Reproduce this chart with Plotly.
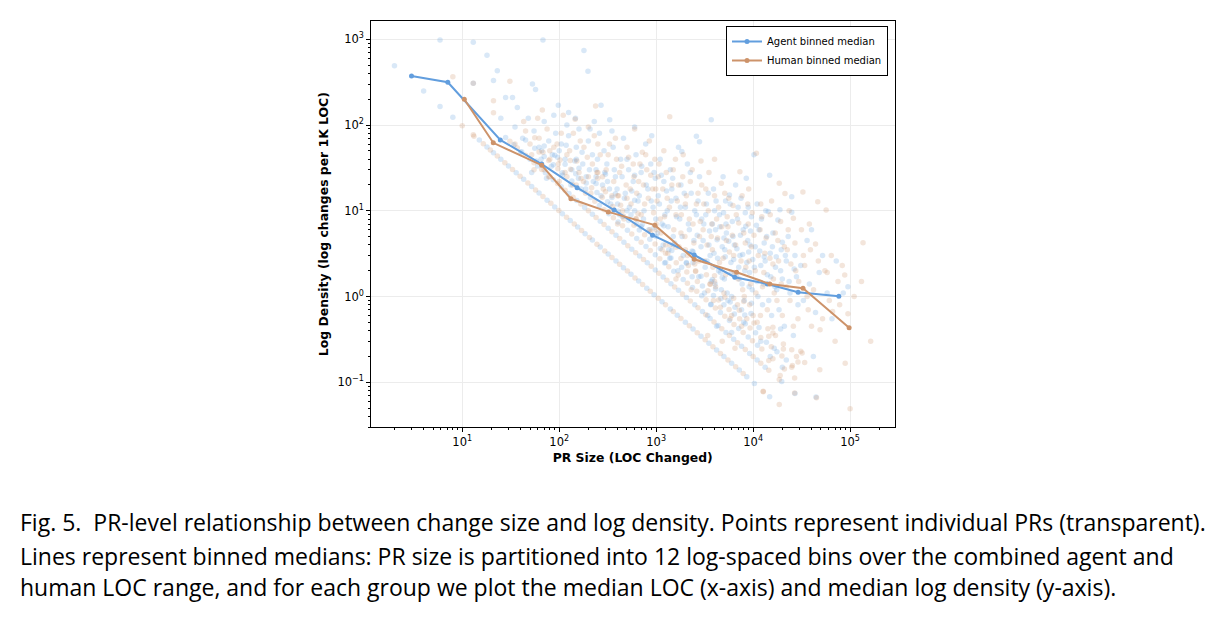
import plotly.graph_objects as go

# ---------------- binned medians ----------------
agent_med_loc = [3.0, 7.1, 24.7, 66, 153, 369, 918, 2470, 6470, 14000, 29100, 76600]
agent_med_density = [373, 315, 67, 35, 18.6, 10.2, 5.2, 3.05, 1.68, 1.40, 1.12, 1.01]
human_med_loc = [10.5, 20.9, 66, 132, 320, 970, 2470, 6750, 14860, 32700, 97700]
human_med_density = [200, 62, 34, 13.8, 9.7, 6.8, 2.72, 1.92, 1.40, 1.25, 0.433]

# ---------------- individual PRs (agent) ----------------
agent_loc = [
    # 1 change
    15, 18, 21, 25, 30, 36, 43, 52, 62, 75, 90, 108, 130, 155, 185, 220, 265, 320, 385, 460, 550, 660, 800, 950,
    1150, 1400, 1650, 2000, 2400, 2900, 3500, 4200, 5000, 6000, 7200, 8600, 10300, 14800,
    # 2 changes
    28, 34, 41, 50, 60, 72, 87, 105, 126, 152, 183, 220, 265, 320, 385, 465, 560, 675, 810, 980, 1180, 1420, 1700,
    2050, 2500, 3000, 3600, 4350, 5250, 6300, 7600, 9200, 11000, 13300, 19700, 27000,
    # 3 changes
    45, 56, 70, 87, 108, 135, 168, 210, 260, 325, 405, 505, 630, 785, 980, 1220, 1520, 1900, 2370, 2950, 3680, 4600,
    5700, 7100, 8900, 11100, 15000, 20000, 44500,
    # 4 changes
    70, 90, 115, 148, 190, 245, 315, 405, 520, 670, 860, 1100, 1420, 1830, 2350, 3000, 3900, 5000, 6400, 8300, 10600,
    13700, 17600, 22000,
    # 5-8 changes
    100, 160, 240, 350, 500, 720, 1000, 1450, 2050, 2900, 4100, 5800, 8200, 11500,
    150, 240, 380, 600, 950, 1500, 2400, 3800, 6000, 9500,
    300, 600, 1200, 2400, 4800, 9600, 19200,
    # scattered cloud
    2.0, 4.0, 5.9, 5.9, 8.0, 13, 18, 23, 21, 25, 28, 33, 37, 53, 57, 68, 98, 180, 198, 125, 147, 208, 270, 332, 13,
    35, 42, 48, 55, 62, 70, 78, 85, 92, 40, 65, 88,
    52, 58, 66, 74, 83, 96, 108, 118, 132, 145, 158, 172, 188, 205, 225, 248, 270, 295,
    105, 115, 125, 135, 150, 160, 175, 190, 200, 220, 240, 260, 280, 120, 230, 290,
    310, 330, 360, 380, 400, 430, 460, 480, 520, 550, 580, 620, 650, 700, 740, 780, 820, 880, 930, 980, 350, 600, 900, 450, 700,
    315, 340, 370, 395, 420, 445, 470, 500, 530, 560, 600, 630, 670, 710, 750, 790, 840, 890, 950, 990,
    1050, 1100, 1150, 1200, 1300, 1350, 1400, 1500, 1600, 1700, 1750, 1800, 1900, 2000, 2100, 2200, 2300, 2450, 2600,
    2600, 2800, 2800, 2900, 1840, 1250, 1450, 2700,
    1030, 1080, 1130, 1180, 1230, 1280, 1330, 1380, 1430, 1480, 1550, 1620, 1680, 1780, 1850, 1950, 2050, 2150, 2250,
    2350, 2500, 2650, 2750, 2950,
    3100, 3200, 3300, 3500, 3700, 3700, 3900, 4100, 4300, 4500, 4700, 4900, 5100, 5300, 5500, 5700, 5900, 6100, 6400,
    6700, 7000, 7300, 7600, 7900, 8200, 8500, 8800, 9100, 9300, 9600, 9900, 3400, 4200, 6000, 8000, 5200, 6600, 3600,
    4600, 7200, 9000, 5000, 8300, 4000, 7500,
    3050, 3150, 3250, 3350, 3450, 3550, 3650, 3800, 3950, 4050, 4150, 4250, 4400, 4550, 4650, 4800, 4950, 5050, 5150,
    5250, 5400, 5600, 5800, 5950, 6200, 6300, 6500, 6800, 6900, 7100, 7400, 7700, 7800, 8100, 8400, 8600, 8900, 9200,
    9400, 9800,
    10500, 11000, 11500, 12000, 12500, 13000, 13500, 14000, 14300, 14800, 15000, 15500, 16000, 17000, 17500, 18000,
    18900, 19500, 20000, 21000, 22000, 23000, 24000, 25000, 25000, 26000, 27000, 28000, 11000, 12000, 16500, 10200,
    13000, 20000,
    10300, 10800, 11200, 11700, 12200, 12800, 13300, 13800, 14500, 15200, 15800, 16800, 17300, 18500, 19200, 21500,
    23500, 26500, 29000,
    31000, 33000, 36000, 38000, 41800, 44000, 48000, 52000, 58000, 65000, 72000, 85000, 95000, 40000,
]
agent_density = [
    66.7, 55.6, 47.6, 40, 33.3, 27.8, 23.3, 19.2, 16.1, 13.3, 11.1, 9.26, 7.69, 6.45, 5.41, 4.55, 3.77, 3.13, 2.60,
    2.17, 1.82, 1.52, 1.25, 1.05, 0.870, 0.714, 0.606, 0.5, 0.417, 0.345, 0.286, 0.238, 0.2, 0.167, 0.139, 0.116,
    0.0971, 0.0676,
    71.4, 58.8, 48.8, 40, 33.3, 27.8, 23.0, 19.0, 15.9, 13.2, 10.9, 9.09, 7.55, 6.25, 5.19, 4.30, 3.57, 2.96, 2.47,
    2.04, 1.69, 1.41, 1.18, 0.976, 0.8, 0.667, 0.556, 0.460, 0.381, 0.317, 0.263, 0.217, 0.182, 0.150, 0.102, 0.074,
    66.7, 53.6, 42.9, 34.5, 27.8, 22.2, 17.9, 14.3, 11.5, 9.23, 7.41, 5.94, 4.76, 3.82, 3.06, 2.46, 1.97, 1.58, 1.27,
    1.02, 0.815, 0.652, 0.526, 0.423, 0.337, 0.270, 0.2, 0.15, 0.0674,
    57.1, 44.4, 34.8, 27.0, 21.1, 16.3, 12.7, 9.88, 7.69, 5.97, 4.65, 3.64, 2.82, 2.19, 1.70, 1.33, 1.03, 0.8, 0.625,
    0.482, 0.377, 0.292, 0.227, 0.182,
    50, 31.3, 20.8, 14.3, 10, 6.94, 5.0, 3.45, 2.44, 1.72, 1.22, 0.862, 0.61, 0.435,
    40, 25, 15.8, 10, 6.32, 4.0, 2.5, 1.58, 1.0, 0.632,
    26.7, 13.3, 6.67, 3.33, 1.67, 0.833, 0.417,
    492, 250, 980, 164, 123, 920, 650, 430, 330, 120, 210, 210, 160, 300, 260, 980, 170, 740, 424, 140, 120, 90, 170,
    115, 306,
    95, 70, 120, 85, 55, 110, 65, 45, 80, 48, 40, 130,
    28, 38, 50, 24, 33, 42, 26, 58, 20, 38, 24, 48, 18, 30, 22, 40, 15, 28,
    60, 40, 75, 30, 55, 90, 35, 25, 65, 45, 30, 80, 20, 100, 110, 50,
    35, 18, 55, 25, 12, 40, 70, 16, 30, 9, 22, 45, 13, 28, 8, 60, 18, 35, 11, 24, 85, 95, 75, 8.5, 6.5,
    22, 12, 30, 18, 9, 25, 14, 40, 11, 17, 26, 7, 15, 33, 10, 20, 6, 13, 28, 8,
    15, 40, 7, 22, 10, 3.5, 30, 5, 14, 55, 8, 20, 3, 11, 35, 6, 16, 4.5, 74, 9, 64, 25, 3.8, 49, 2.5, 18, 13,
    5.5, 12, 26, 4, 9, 17, 6.5, 2.8, 13, 24, 4.2, 8.5, 2, 11, 5, 16, 2.5, 7, 28, 3.4, 10, 5.2, 1.7, 8,
    7, 2.2, 12, 4, 115, 1.5, 18, 6, 2.8, 9, 1.2, 25, 3.5, 5.5, 0.9, 15.3, 2.5, 7.5, 4, 1.8, 11, 3, 0.7, 6, 2, 24, 4.5,
    1.3, 4.0, 8.5, 2.7, 0.6, 0.45, 0.38, 0.5, 13, 20, 3, 1.9, 1.6, 3.3, 4.8, 9.5, 10, 14,
    4.5, 1.1, 9, 2.6, 16, 5.8, 0.8, 7, 3.2, 1.4, 13, 4.6, 2, 6.5, 0.95, 3.8, 9.5, 1.6, 2.9, 7, 1.1, 4.4, 12, 1.9, 5,
    2.7, 0.75, 3.6, 8, 2.2, 5.2, 1.4, 3.1, 0.9, 6.6, 2.5, 11, 1.9, 5.8, 1.2,
    3.8, 1.5, 6, 2.3, 0.8, 4.2, 10, 1.8, 9.8, 26, 3.2, 0.6, 5.5, 2.2, 1.2, 7.8, 10.3, 3.5, 1.6, 0.45, 2.6, 5, 1.1,
    14.6, 9.6, 0.35, 3, 1.7, 12, 0.3, 0.25, 45, 2.9, 4.3,
    2.2, 6.8, 1, 3.4, 8, 1.4, 2.6, 5, 0.9, 1.7, 3.8, 1.3, 2.9, 0.7, 2, 3, 1.5, 2.1, 0.8,
    2.3, 0.9, 4.5, 1.4, 0.2, 0.65, 1.9, 3, 1.1, 0.55, 2.6, 1.1, 1.3, 6,
]

# ---------------- individual PRs (human) ----------------
human_loc = [
    # 1 change
    13, 16.5, 19.5, 23, 27.5, 33, 39.5, 47.5, 57, 68, 82, 99, 119, 143, 170, 205, 245, 295, 350, 420, 505, 605, 725,
    870, 1050, 1250, 1500, 1800, 2200, 2650, 3200, 3850, 4600, 5500, 6600, 7900, 12700,
    # 2 changes
    31, 37, 45, 55, 66, 80, 96, 115, 139, 167, 200, 240, 290, 350, 420, 510, 615, 740, 890, 1070, 1290, 1550, 1870,
    2250, 2700, 3250, 3950, 4750, 5700, 6900, 8300, 10000, 12000, 14500, 18600,
    # 3 changes
    50, 62, 78, 97, 120, 150, 187, 233, 290, 362, 450, 560, 700, 870, 1090, 1350, 1690, 2100, 2620, 3270, 4080, 5100,
    6350, 7900, 9850, 12300, 16000, 21000, 26800,
    # 4 changes
    80, 102, 131, 168, 216, 278, 357, 460, 590, 760, 975, 1250, 1610, 2070, 2660, 3420, 4400, 5650, 7250, 9300, 12000,
    15400, 19800, 25400,
    # 5-7 changes
    130, 200, 300, 430, 620, 880, 1250, 1800, 2550, 3600, 5100, 7200, 10200, 14500, 20500, 29000,
    250, 400, 650, 1000, 1600, 2500, 4000, 6300, 10000, 16000, 25000, 48700,
    250, 500, 1000, 2000, 4000, 8000, 16000, 32000,
    # scattered cloud
    8.0, 10, 13.2, 31, 21, 21, 67, 237, 146, 43, 13, 56, 1380,
    35, 45, 52, 60, 75, 80, 95, 110, 120, 140, 160, 180, 200, 220, 250, 280, 100, 70,
    55, 62, 68, 78, 88, 98, 105, 115, 128, 138, 152, 165, 178, 195, 212, 230, 245, 265, 285,
    320, 350, 380, 420, 450, 500, 540, 580, 620, 660, 720, 760, 800, 860, 920, 970, 400, 600, 850,
    305, 330, 345, 365, 390, 410, 440, 465, 490, 520, 550, 590, 630, 680, 700, 740, 780, 830, 880, 940, 990,
    1050, 1100, 1200, 1300, 1400, 1500, 1600, 1700, 1800, 1900, 2000, 2100, 2250, 2400, 2550, 2700, 2900, 1150, 2300,
    1600, 2800,
    1020, 1070, 1120, 1170, 1220, 1270, 1320, 1370, 1450, 1520, 1580, 1650, 1720, 1820, 1880, 1980, 2050, 2150, 2200,
    2350, 2450, 2600, 2750, 2850, 2950,
    3100, 3300, 3500, 3700, 3900, 4200, 4500, 4700, 5000, 5300, 5600, 6000, 6300, 6700, 7000, 7300, 7600, 8000, 8400,
    8800, 9200, 9600, 3400, 4800, 6500, 3800, 5500, 7800, 9000, 4000,
    3050, 3150, 3250, 3350, 3450, 3600, 3750, 3850, 4000, 4100, 4300, 4400, 4600, 4750, 4900, 5100, 5200, 5400, 5700,
    5800, 6100, 6200, 6400, 6600, 6900, 7100, 7500, 7700, 8100, 8300, 8600, 8900, 9100, 9400, 9800,
    10800, 10500, 11000, 11800, 12500, 13200, 14000, 15000, 16000, 17000, 18000, 18600, 19500, 20500, 21300, 22500,
    24000, 26000, 27500, 29000, 12000, 16500, 23000, 28000, 14500, 19000, 25000,
    10200, 10700, 11300, 11900, 12300, 12900, 13600, 14200, 14900, 15500, 16200, 16900, 17600, 18300, 19200, 20000,
    21000, 22000, 23500, 24500, 26000, 27000, 29500, 31500, 34000, 37000, 39000, 42000, 47000, 52000, 58000, 64000,
    78000, 83000, 110000,
    32600, 46400, 56600, 33000, 36000, 40000, 44000, 49000, 55000, 61000, 66000, 75000, 88000, 95000, 100000, 89000,
    131000, 136000, 163000, 34000, 31000, 45000, 26800, 18600, 12700, 38000, 70000,
]
human_density = [
    76.9, 60.6, 51.3, 43.5, 36.4, 30.3, 25.3, 21.1, 17.5, 14.7, 12.2, 10.1, 8.40, 6.99, 5.88, 4.88, 4.08, 3.39, 2.86,
    2.38, 1.98, 1.65, 1.38, 1.15, 0.952, 0.8, 0.667, 0.556, 0.455, 0.377, 0.3125, 0.260, 0.217, 0.182, 0.152, 0.127,
    0.0787,
    64.5, 54.1, 44.4, 36.4, 30.3, 25, 20.8, 17.4, 14.4, 12.0, 10, 8.33, 6.90, 5.71, 4.76, 3.92, 3.25, 2.70, 2.25, 1.87,
    1.55, 1.29, 1.07, 0.889, 0.741, 0.615, 0.506, 0.421, 0.351, 0.290, 0.241, 0.2, 0.167, 0.138, 0.108,
    60, 48.4, 38.5, 30.9, 25, 20, 16.0, 12.9, 10.3, 8.29, 6.67, 5.36, 4.29, 3.45, 2.75, 2.22, 1.78, 1.43, 1.15, 0.917,
    0.735, 0.588, 0.472, 0.380, 0.305, 0.244, 0.1875, 0.143, 0.112,
    50, 39.2, 30.5, 23.8, 18.5, 14.4, 11.2, 8.70, 6.78, 5.26, 4.10, 3.2, 2.48, 1.93, 1.50, 1.17, 0.909, 0.708, 0.552,
    0.430, 0.333, 0.260, 0.202, 0.157,
    38.5, 25, 16.7, 11.6, 8.06, 5.68, 4.0, 2.78, 1.96, 1.39, 0.98, 0.694, 0.49, 0.345, 0.244, 0.172,
    24, 15, 9.23, 6.0, 3.75, 2.4, 1.5, 0.952, 0.6, 0.375, 0.24, 0.14,
    28, 14, 7, 3.5, 1.75, 0.875, 0.4375, 0.219,
    366, 98, 74, 323, 192, 139, 150, 167, 117, 110, 306, 71, 125,
    60, 85, 45, 120, 90, 40, 60, 130, 45, 80, 28, 55, 95, 35, 60, 25, 22, 30,
    30, 70, 48, 25, 55, 35, 80, 28, 50, 20, 38, 65, 22, 42, 16, 75, 28, 45, 18,
    45, 15, 70, 28, 10, 55, 18, 35, 8, 22, 48, 12, 30, 6, 18, 40, 7, 90, 65,
    30, 60, 10, 22, 40, 15, 33, 8, 20, 42, 12, 25, 16, 35, 9, 20, 45, 14, 26, 9.5, 18,
    25, 8, 50, 14, 4, 30, 9, 20, 5.5, 45, 12, 3, 22, 7, 2, 16, 38, 3.5, 1.2, 1.6, 5,
    13, 35, 5.5, 18, 8.5, 28, 3.2, 11, 20, 6, 40, 13, 3.8, 9, 25, 5, 15, 2.3, 8, 30, 4.2, 12, 2.6, 7.5, 20,
    12, 1.8, 28, 5, 0.9, 8, 2.5, 21, 1.1, 4.5, 14, 0.6, 3, 9, 1.6, 28.5, 0.45, 5.5, 2.2, 12, 0.8, 3.8, 0.35, 0.3, 0.25,
    3.5, 6.5, 1.2, 18, 40,
    6, 2.6, 18, 4, 10, 1.4, 7, 2.2, 15, 1.3, 4.8, 11, 0.75, 6.5, 2.8, 16, 1.8, 8.5, 3.3, 0.55, 5.2, 11.5, 1.9, 4, 0.8,
    7.2, 2.6, 15, 1, 4.2, 0.55, 7, 2.6, 1.4, 9.5,
    46.8, 2, 0.5, 6, 1.3, 3.2, 0.7, 9, 2.4, 0.35, 4.5, 21, 1.4, 0.28, 15.9, 3.5, 0.9, 8.2, 2, 0.55, 12, 1.1, 6, 0.2,
    0.18, 0.12, 0.15,
    5.2, 1.1, 3, 0.6, 8.5, 1.9, 4.8, 0.42, 2.8, 13, 1.6, 5.5, 0.9, 2.6, 7.5, 0.6, 3.8, 1.3, 10, 2.4, 0.45, 4.2, 1.5, 6,
    2.3, 0.7, 3.5, 1.2, 2.6, 0.55, 1.9, 3, 0.8, 2.3, 1,
    16.5, 12.7, 10.2, 3, 1, 0.45, 4.1, 0.41, 2, 0.9, 0.67, 1.5, 1.78, 0.63, 0.049, 0.167, 1.5, 4.25, 0.3, 0.17, 0.23,
    0.066, 0.075, 0.055, 0.0775, 7, 0.3,
]

# ---------------- axis ticks ----------------
x_tick_vals = [10, 100, 1000, 10000, 100000]
x_tick_text = ["10<sup>1</sup>", "10<sup>2</sup>", "10<sup>3</sup>", "10<sup>4</sup>", "10<sup>5</sup>"]
y_tick_vals = [0.1, 1, 10, 100, 1000]
y_tick_text = ["10<sup>\u22121</sup>", "10<sup>0</sup>", "10<sup>1</sup>", "10<sup>2</sup>", "10<sup>3</sup>"]
x_minor_vals = [m * 10 ** e for e in range(0, 6) for m in range(2, 10)]
y_minor_vals = [m * 10.0 ** e for e in range(-2, 4) for m in range(2, 10)]

agent_color = "rgb(98,158,222)"
human_color = "rgb(205,147,106)"

caption_lines = [
    "Fig. 5.  PR-level relationship between change size and log density. Points represent individual PRs (transparent).",
    "Lines represent binned medians: PR size is partitioned into 12 log-spaced bins over the combined agent and",
    "human LOC range, and for each group we plot the median LOC (x-axis) and median log density (y-axis).",
]

fig = go.Figure()
fig.add_trace(go.Scatter(x=agent_loc, y=agent_density, mode="markers", showlegend=False, hoverinfo="skip",
                         marker=dict(size=5.5, color=agent_color, opacity=0.24, line=dict(width=0))))
fig.add_trace(go.Scatter(x=human_loc, y=human_density, mode="markers", showlegend=False, hoverinfo="skip",
                         marker=dict(size=5.5, color=human_color, opacity=0.24, line=dict(width=0))))
fig.add_trace(go.Scatter(x=agent_med_loc, y=agent_med_density, mode="lines+markers",
                         name="Agent binned median",
                         line=dict(color=agent_color, width=2), marker=dict(size=5, color=agent_color)))
fig.add_trace(go.Scatter(x=human_med_loc, y=human_med_density, mode="lines+markers",
                         name="Human binned median",
                         line=dict(color=human_color, width=2), marker=dict(size=5, color=human_color)))

W, H = 1218, 620
x0, x1 = 370.7, 894.7
yt, yb = 21.0, 427.3

axis_common = dict(
    type="log", showline=True, linecolor="black", linewidth=1, mirror=True,
    ticks="outside", ticklen=3.5, tickwidth=0.8, tickcolor="black",
    showgrid=True, gridcolor="#ececec", gridwidth=0.8, zeroline=False,
    tickmode="array",
    tickfont=dict(family="DejaVu Sans", size=11.5, color="black"),
)
title_font = dict(family="DejaVu Sans", size=12.4, color="black")

fig.update_layout(
    width=W, height=H, margin=dict(l=0, r=0, t=0, b=0),
    paper_bgcolor="white", plot_bgcolor="white",
    xaxis=dict(axis_common, domain=[x0 / W, x1 / W], range=[0.056, 5.46],
               tickvals=x_tick_vals, ticktext=x_tick_text,
               minor=dict(tickmode="array", tickvals=x_minor_vals, ticks="outside", ticklen=2,
                          tickwidth=0.6, tickcolor="black", showgrid=False),
               title=dict(text="<b>PR Size (LOC Changed)</b>", standoff=5, font=title_font)),
    yaxis=dict(axis_common, domain=[1 - yb / H, 1 - yt / H], range=[-1.525, 3.213],
               tickvals=y_tick_vals, ticktext=y_tick_text,
               minor=dict(tickmode="array", tickvals=y_minor_vals, ticks="outside", ticklen=2,
                          tickwidth=0.6, tickcolor="black", showgrid=False),
               title=dict(text="<b>Log Density (log changes per 1K LOC)</b>", standoff=6, font=title_font)),
    legend=dict(x=888 / W, xanchor="right", y=1 - 26 / H, yanchor="top",
                bgcolor="white", bordercolor="black", borderwidth=1,
                font=dict(family="DejaVu Sans", size=10, color="black"),
                itemwidth=30, tracegroupgap=0),
)

for txt, cy in zip(caption_lines, [522, 556, 587]):
    fig.add_annotation(text=txt, xref="paper", yref="paper", x=18 / W, y=1 - cy / H,
                       xanchor="left", yanchor="middle", showarrow=False,
                       font=dict(family="Open Sans", size=23, color="black"))

fig.write_html("out.html")
